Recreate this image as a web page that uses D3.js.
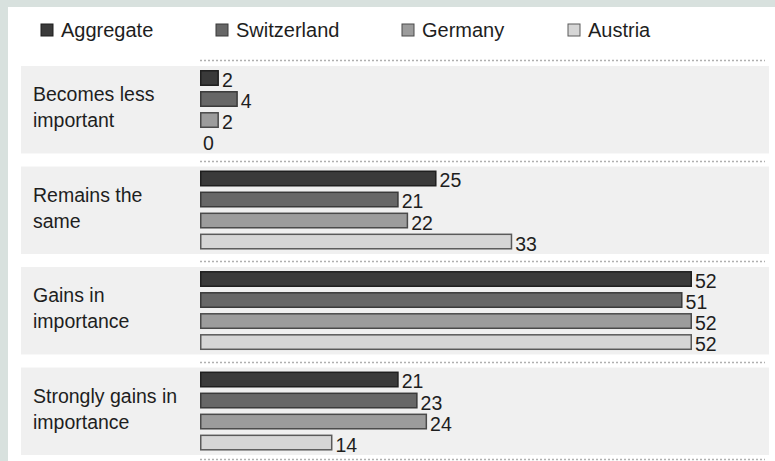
<!DOCTYPE html>
<html>
<head>
<meta charset="utf-8">
<script src="https://cdn.jsdelivr.net/npm/d3@7/dist/d3.min.js"></script>
<style>
  html, body { margin: 0; padding: 0; background: #d8e1de; }
  svg { display: block; }
  text { font-family: "Liberation Sans", Arial, sans-serif; fill: #1e1e1e; }
</style>
</head>
<body>
<svg id="chart" width="775" height="461"></svg>
<script>
// ---- data ----
const categories = [
  ["Becomes less", "important"],
  ["Remains the", "same"],
  ["Gains in", "importance"],
  ["Strongly gains in", "importance"]
];
const seriesNames = ["Aggregate", "Switzerland", "Germany", "Austria"];
const aggregate   = [2, 25, 52, 21];
const switzerland = [4, 21, 51, 23];
const germany     = [2, 22, 52, 24];
const austria     = [0, 33, 52, 14];
const seriesValues = [aggregate, switzerland, germany, austria];
const fills   = ["#3a3a3a", "#676767", "#9c9c9c", "#d6d6d6"];
const strokes = ["#1f1f1f", "#3a3a3a", "#4a4a4a", "#5a5a5a"];

const W = 775, H = 461;
const svg = d3.select("#chart");

// white panel
svg.append("rect").attr("x", 8).attr("y", 7).attr("width", W - 8).attr("height", H - 7).attr("fill", "#ffffff");

// scales
const x = d3.scaleLinear().domain([0, 52]).range([200, 692]);
const groupKeys = categories.map((c, i) => i);
const y0 = d3.scaleBand().domain(groupKeys).range([62, 459]).paddingInner(0.13).paddingOuter(0.04);
const y1 = d3.scaleBand().domain(seriesNames).range([4, 4 + 21 * 4 - 5]).paddingInner(0.24);

// legend
const legendX = [41, 216, 402, 568];
const lg = svg.append("g");
seriesNames.forEach((s, i) => {
  lg.append("rect").attr("x", legendX[i]).attr("y", 24).attr("width", 12).attr("height", 12)
    .attr("fill", fills[i]).attr("stroke", strokes[i]).attr("stroke-width", 1);
  lg.append("text").attr("x", legendX[i] + 20).attr("y", 37).attr("font-size", 20).text(s);
});

// groups
const bw = y0.bandwidth();
groupKeys.forEach(gi => {
  const top = y0(gi);
  const g = svg.append("g").attr("transform", `translate(0,${top})`);
  g.append("rect").attr("x", 21).attr("y", 0).attr("width", 748).attr("height", bw).attr("fill", "#f0f0f0");
  // category label
  const t = g.append("text").attr("x", 33).attr("y", 35).attr("font-size", 19.5).attr("fill", "#262626");
  categories[gi].forEach((line, li) => {
    t.append("tspan").attr("x", 33).attr("dy", li === 0 ? 0 : 26).text(line);
  });
  seriesNames.forEach((s, si) => {
    const v = seriesValues[si][gi];
    const by = y1(s);
    const bh = y1.bandwidth();
    if (v > 0) {
      g.append("rect").attr("x", x(0) + 0.75).attr("y", by + 0.75)
        .attr("width", x(v) - x(0) - 1.5).attr("height", bh - 1.5)
        .attr("fill", fills[si]).attr("stroke", strokes[si]).attr("stroke-width", 1.5);
    }
    g.append("text").attr("x", x(v) + 3).attr("y", by + bh + 1).attr("font-size", 19.5).text(v);
  });
});

// dotted separators
const tops = groupKeys.map(k => y0(k));
const sepY = tops.map(t => Math.round(t - 6) + 0.5).concat([Math.round(tops[tops.length - 1] + bw + 4) + 0.5]);
svg.selectAll("line.sep").data(sepY).join("line").attr("class", "sep")
  .attr("x1", 200).attr("x2", 765).attr("y1", d => d).attr("y2", d => d)
  .attr("stroke", "#b0b0b0").attr("stroke-width", 1.5).attr("stroke-dasharray", "2,2");
</script>
</body>
</html>
